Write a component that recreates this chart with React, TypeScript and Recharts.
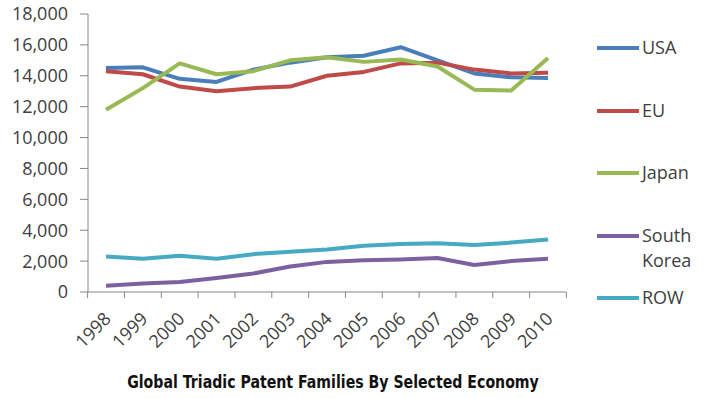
import React from 'react';
import { LineChart, Line, XAxis, YAxis } from 'recharts';

const YEARS = ['1998', '1999', '2000', '2001', '2002', '2003', '2004', '2005', '2006', '2007', '2008', '2009', '2010'];

const USA = [14500, 14550, 13800, 13600, 14400, 14850, 15200, 15300, 15850, 15000, 14150, 13900, 13850];
const EU = [14300, 14100, 13300, 13000, 13200, 13300, 14000, 14250, 14800, 14850, 14400, 14150, 14200];
const JAPAN = [11800, 13200, 14800, 14100, 14300, 15000, 15200, 14900, 15050, 14600, 13100, 13050, 15150];
const SOUTH_KOREA = [400, 550, 650, 900, 1200, 1650, 1950, 2050, 2100, 2200, 1750, 2000, 2150];
const ROW = [2300, 2150, 2350, 2150, 2450, 2600, 2750, 3000, 3100, 3150, 3050, 3200, 3400];

const Y_TICKS = [0, 2000, 4000, 6000, 8000, 10000, 12000, 14000, 16000, 18000];

const SERIES = [
  { key: 'USA', label: ['USA'], values: USA, color: '#4A7EBB' },
  { key: 'EU', label: ['EU'], values: EU, color: '#BE4B48' },
  { key: 'Japan', label: ['Japan'], values: JAPAN, color: '#98B954' },
  { key: 'South Korea', label: ['South', 'Korea'], values: SOUTH_KOREA, color: '#7D60A0' },
  { key: 'ROW', label: ['ROW'], values: ROW, color: '#46AAC5' },
];

const data = YEARS.map((year, i) => {
  const row: { [k: string]: string | number } = { year };
  SERIES.forEach((s) => { row[s.key] = s.values[i]; });
  return row;
});

const FONT = '"Open Sans", sans-serif';
const AXIS = '#868686';
const TEXT = '#404040';
const HALF_BAND = (566 - 88) / YEARS.length / 2;

const YearTick = (props: any) => {
  const { x, y, payload, index } = props;
  const last = index === YEARS.length - 1;
  return (
    <g>
      <line x1={x - HALF_BAND} y1={y} x2={x - HALF_BAND} y2={y + 6} stroke={AXIS} />
      {last && <line x1={x + HALF_BAND} y1={y} x2={x + HALF_BAND} y2={y + 6} stroke={AXIS} />}
      <text
        transform={`translate(${x + 6},${y + 28}) rotate(-45)`}
        textAnchor="end"
        fontFamily={FONT}
        fontSize={18}
        fill={TEXT}
      >
        {payload.value}
      </text>
    </g>
  );
};

export default function App() {
  return (
    <div style={{ position: 'absolute', left: 0, top: 0, width: 705, height: 398, background: 'white' }}>
      <LineChart width={705} height={398} data={data} margin={{ top: 14, right: 139, left: 0, bottom: 0 }}>
        <XAxis
          dataKey="year"
          height={106}
          padding={{ left: 18, right: 18 }}
          stroke={AXIS}
          tickLine={false}
          tickSize={0}
          tickMargin={0}
          interval={0}
          tick={<YearTick />}
        />
        <YAxis
          width={88}
          domain={[0, 18000]}
          ticks={Y_TICKS}
          tickFormatter={(v: number) => v.toLocaleString('en-US')}
          stroke={AXIS}
          tickSize={8}
          tickMargin={12}
          tick={{ fontSize: 18, fill: TEXT, fontFamily: FONT }}
        />
        {SERIES.map((s) => (
          <Line
            key={s.key}
            dataKey={s.key}
            stroke={s.color}
            strokeWidth={4}
            strokeLinejoin="round"
            dot={false}
            activeDot={false}
            isAnimationActive={false}
          />
        ))}
      </LineChart>
      <div style={{ position: 'absolute', left: 597, top: 0, fontFamily: FONT, fontSize: 18, color: TEXT }}>
        {SERIES.map((s, i) => (
          <div key={s.key} style={{ position: 'absolute', left: 0, top: 35 + i * 62.5, whiteSpace: 'nowrap' }}>
            <div style={{ position: 'absolute', left: 0, top: 11, width: 42, height: 4, background: s.color }} />
            <div style={{ position: 'absolute', left: 45, top: 0, lineHeight: '25px' }}>
              {s.label.map((l) => <div key={l}>{l}</div>)}
            </div>
          </div>
        ))}
      </div>
      <div
        style={{
          position: 'absolute', left: 0, width: 666, top: 371, textAlign: 'center',
          fontFamily: '"DejaVu Sans", sans-serif',
          fontWeight: 'bold', fontSize: 18, color: '#111', whiteSpace: 'nowrap',
          transform: 'scaleX(0.785)', transformOrigin: '333px 0',
        }}
      >
        Global Triadic Patent Families By Selected Economy
      </div>
    </div>
  );
}
